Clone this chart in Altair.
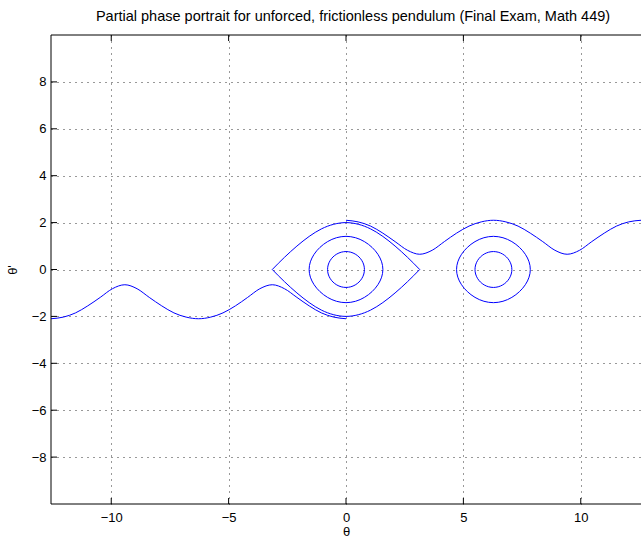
import altair as alt
import pandas as pd

title_text = "Partial phase portrait for unforced, frictionless pendulum (Final Exam, Math 449)"
x_ticks = [-10, -5, 0, 5, 10]
y_ticks = [-8, -6, -4, -2, 0, 2, 4, 6, 8]
x_domain = [-12.566, 12.566]
y_domain = [-10, 10]

# running orbit heading right (theta' > 0)
upper_theta = [0.00, 0.52, 1.05, 1.57, 2.09, 2.62, 3.14, 3.67, 4.19, 4.71, 5.24, 5.76,
               6.28, 6.81, 7.33, 7.85, 8.38, 8.90, 9.42, 9.95, 10.47, 11.00, 11.52, 12.04, 12.57]
upper_speed = [2.10, 2.03, 1.85, 1.55, 1.19, 0.82, 0.65, 0.82, 1.19, 1.55, 1.85, 2.03,
               2.10, 2.03, 1.85, 1.55, 1.19, 0.82, 0.65, 0.82, 1.19, 1.55, 1.85, 2.03, 2.10]
# running orbit heading left (theta' < 0)
lower_theta = [0.00, -0.52, -1.05, -1.57, -2.09, -2.62, -3.14, -3.67, -4.19, -4.71, -5.24, -5.76,
               -6.28, -6.81, -7.33, -7.85, -8.38, -8.90, -9.42, -9.95, -10.47, -11.00, -11.52, -12.04, -12.57]
lower_speed = [-2.10, -2.03, -1.85, -1.55, -1.19, -0.82, -0.65, -0.82, -1.19, -1.55, -1.85, -2.03,
               -2.10, -2.03, -1.85, -1.55, -1.19, -0.82, -0.65, -0.82, -1.19, -1.55, -1.85, -2.03, -2.10]
# separatrix (eye shape between -pi and pi)
sep_theta = [-3.14, -2.62, -2.09, -1.57, -1.05, -0.52, 0.00, 0.52, 1.05, 1.57, 2.09, 2.62, 3.14]
sep_upper = [0.00, 0.52, 1.00, 1.41, 1.73, 1.93, 2.00, 1.93, 1.73, 1.41, 1.00, 0.52, 0.00]
sep_lower = [0.00, -0.52, -1.00, -1.41, -1.73, -1.93, -2.00, -1.93, -1.73, -1.41, -1.00, -0.52, 0.00]

# closed orbits, offsets from their centre, going round the loop
small_dtheta = [0.785, 0.759, 0.680, 0.555, 0.393, 0.203, 0.000, -0.203, -0.393, -0.555, -0.680, -0.759,
                -0.785, -0.759, -0.680, -0.555, -0.393, -0.203, 0.000, 0.203, 0.393, 0.555, 0.680, 0.759]
small_dspeed = [0.000, 0.192, 0.375, 0.534, 0.658, 0.738, 0.765, 0.738, 0.658, 0.534, 0.375, 0.192,
                0.000, -0.192, -0.375, -0.534, -0.658, -0.738, -0.765, -0.738, -0.658, -0.534, -0.375, -0.192]
mid_dtheta = [1.571, 1.517, 1.360, 1.111, 0.785, 0.407, 0.000, -0.407, -0.785, -1.111, -1.360, -1.517,
              -1.571, -1.517, -1.360, -1.111, -0.785, -0.407, 0.000, 0.407, 0.785, 1.111, 1.360, 1.517]
mid_dspeed = [0.000, 0.328, 0.647, 0.942, 1.189, 1.355, 1.414, 1.355, 1.189, 0.942, 0.647, 0.328,
              0.000, -0.328, -0.647, -0.942, -1.189, -1.355, -1.414, -1.355, -1.189, -0.942, -0.647, -0.328]
loop_centers = [0.00, 6.28]

BLUE = "#0000ff"
FONT = "Liberation Sans"
W, H = 590, 469

rows = []
for name, th, sp in [("upper", upper_theta, upper_speed), ("lower", lower_theta, lower_speed),
                     ("sep_top", sep_theta, sep_upper), ("sep_bot", sep_theta, sep_lower)]:
    for t, s in zip(th, sp):
        rows.append({"curve": name, "theta": t, "omega": s})
open_df = pd.DataFrame(rows)

rows = []
for c in loop_centers:
    for name, dth, dsp in [("small", small_dtheta, small_dspeed), ("mid", mid_dtheta, mid_dspeed)]:
        for i, (t, s) in enumerate(zip(dth, dsp)):
            rows.append({"curve": f"{name}_{c}", "theta": c + t, "omega": s, "i": i})
loop_df = pd.DataFrame(rows)

xs = alt.Scale(domain=x_domain, nice=False, zero=False)
ys = alt.Scale(domain=y_domain, nice=False, zero=False)

x_axis = alt.Axis(values=x_ticks, title="θ", grid=True, gridDash=[1, 5], gridColor="#333",
                  ticks=False, domain=False, labelFont=FONT, labelFontSize=13, labelColor="black",
                  labelPadding=7, labelFlush=False, titleFont=FONT, titleFontSize=13,
                  titleFontWeight="normal", titleColor="black", titlePadding=1)
y_axis = alt.Axis(values=y_ticks, title="θ'", grid=True, gridDash=[1, 5], gridColor="#333",
                  ticks=False, domain=False, labelFont=FONT, labelFontSize=13, labelColor="black",
                  labelPadding=5, labelFlush=False, titleFont=FONT, titleFontSize=13,
                  titleFontWeight="normal", titleColor="black", titlePadding=12)

X = alt.X("theta:Q", scale=xs, axis=x_axis)
Y = alt.Y("omega:Q", scale=ys, axis=y_axis)

open_lines = alt.Chart(open_df).mark_line(
    interpolate="monotone", color=BLUE, strokeWidth=1, clip=True
).encode(x=X, y=Y, detail="curve:N", order="theta:Q")

loops = alt.Chart(loop_df).mark_line(
    interpolate="cardinal-closed", color=BLUE, strokeWidth=1, clip=True
).encode(x=X, y=Y, detail="curve:N", order="i:Q")

xt_df = pd.DataFrame({"theta": x_ticks})
yt_df = pd.DataFrame({"omega": y_ticks})
one = pd.DataFrame({"a": [0]})

xt_bottom = alt.Chart(xt_df).mark_rule(color="black", strokeWidth=1).encode(
    x=X, y=alt.value(H), y2=alt.value(H - 6))
xt_top = alt.Chart(xt_df).mark_rule(color="black", strokeWidth=1).encode(
    x=X, y=alt.value(0), y2=alt.value(6))
yt_left = alt.Chart(yt_df).mark_rule(color="black", strokeWidth=1).encode(
    y=Y, x=alt.value(0), x2=alt.value(6))

border_left = alt.Chart(one).mark_rule(color="black", strokeWidth=1).encode(
    x=alt.value(0), y=alt.value(0), y2=alt.value(H))
border_top = alt.Chart(one).mark_rule(color="black", strokeWidth=1).encode(
    x=alt.value(0), x2=alt.value(W), y=alt.value(0))
border_bottom = alt.Chart(one).mark_rule(color="black", strokeWidth=1).encode(
    x=alt.value(0), x2=alt.value(W), y=alt.value(H))

chart = alt.layer(
    open_lines, loops, xt_bottom, xt_top, yt_left, border_left, border_top, border_bottom
).properties(
    width=W, height=H,
    title=alt.TitleParams(title_text, font=FONT, fontSize=14.5, fontWeight="normal",
                          color="black", offset=10, dx=7),
    autosize=alt.AutoSizeParams(type="none"),
    padding={"left": 51, "top": 35, "right": 0, "bottom": 34},
    background="white",
).configure_view(stroke=None)

chart.save("out.html", embed_options={"renderer": "svg", "actions": False})
